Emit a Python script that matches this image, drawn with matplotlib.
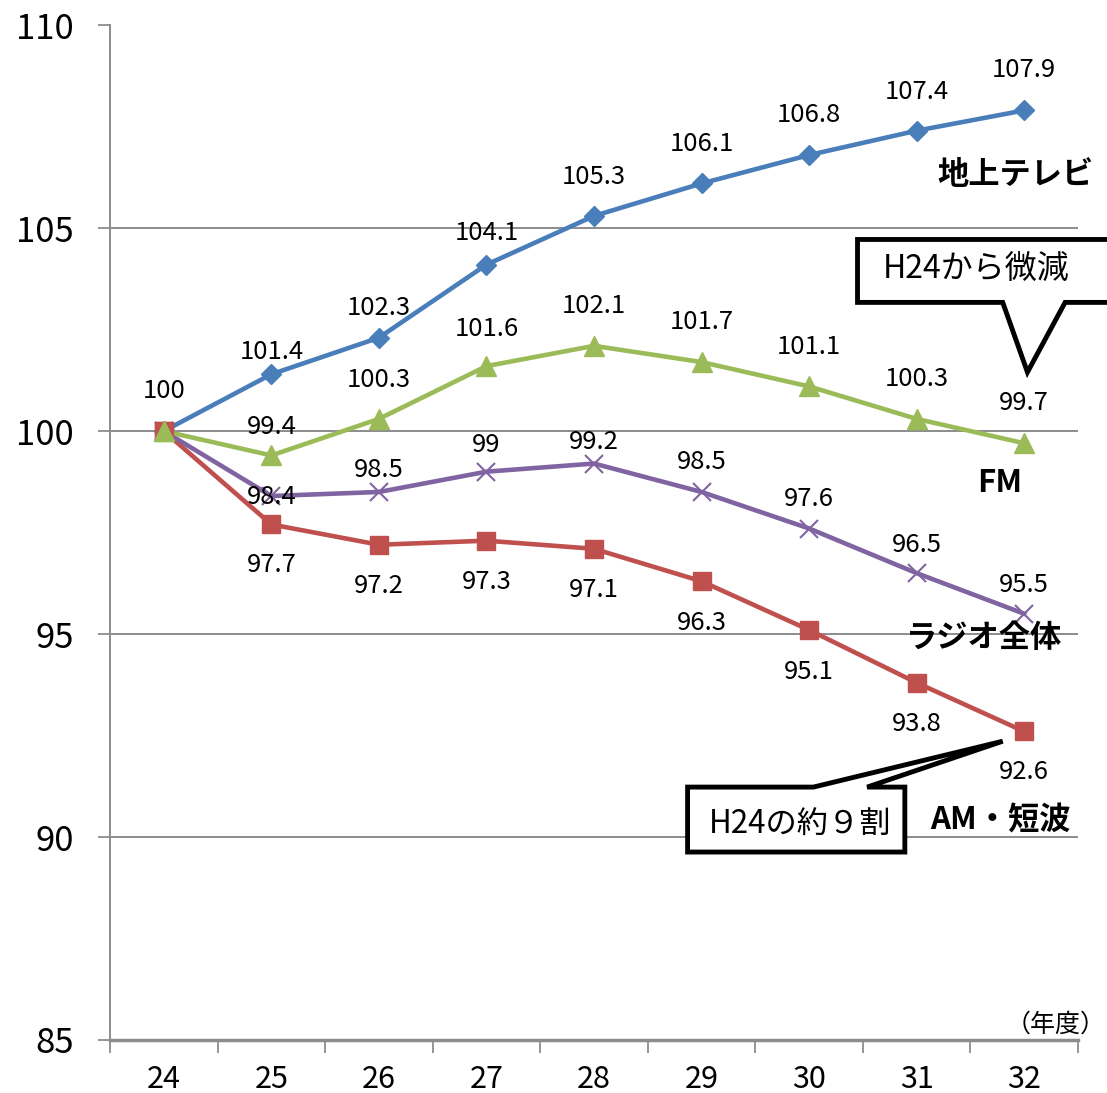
import matplotlib
matplotlib.use("Agg")
import matplotlib.pyplot as plt
from matplotlib.patches import Polygon

plt.rcParams["font.family"] = ["Noto Sans CJK JP", "DejaVu Sans"]

# 年度 (平成)
years = [24, 25, 26, 27, 28, 29, 30, 31, 32]

# H24 = 100 とした指数
tv = [100, 101.4, 102.3, 104.1, 105.3, 106.1, 106.8, 107.4, 107.9]
fm = [100, 99.4, 100.3, 101.6, 102.1, 101.7, 101.1, 100.3, 99.7]
radio = [100, 98.4, 98.5, 99, 99.2, 98.5, 97.6, 96.5, 95.5]
am = [100, 97.7, 97.2, 97.3, 97.1, 96.3, 95.1, 93.8, 92.6]

series_names = ["地上テレビ", "FM", "ラジオ全体", "AM・短波"]
y_ticks = [85, 90, 95, 100, 105, 110]

GRAY = "#8c8c8c"

fig = plt.figure(figsize=(11.07, 10.93), dpi=100)
ax = fig.add_axes([0.0994, 0.0485, 0.8744, 0.9285])


def fmt(v):
    return f"{v:g}"


def label_points(xs, ys, offsets, skip_first=True):
    # 点ごとのラベル (offsets はピクセル単位の縦ずれ)
    for i, (x, y) in enumerate(zip(xs, ys)):
        if skip_first and i == 0:
            continue
        ax.annotate(fmt(y), (x, y), xytext=(0, offsets[i]), textcoords="offset pixels",
                    ha="center", va="center", fontsize=18.5, color="black", zorder=6)


# 描画順: 赤 -> 紫 -> 緑 -> 青
ax.plot(years, am, color="#C0504D", lw=3.3, marker="s", ms=13, zorder=3)
ax.plot(years, radio, color="#8064A2", lw=3.3, marker="x", ms=13, mew=1.5, zorder=3)
ax.plot(years, tv, color="#4A7EBB", lw=3.3, marker="D", ms=10, zorder=3)
ax.plot(years, fm, color="#9BBB59", lw=3.3, marker="^", ms=14, zorder=4)
# 24年度は全系列が同じ点
ax.plot(years[0], am[0], marker="s", color="#C0504D", ms=13, zorder=4)
ax.plot(years[0], fm[0], marker="^", color="#9BBB59", ms=14, zorder=5)

label_points(years, tv, [40, 22, 30, 32, 39, 39, 40, 39, 40], skip_first=False)
label_points(years, fm, [0, 28, 39, 37, 40, 40, 39, 40, 40])
label_points(years, radio, [0, -1, 22, 27, 22, 30, 30, 28, 29])
label_points(years, am, [0, -41, -41, -41, -41, -42, -42, -41, -41])

# 系列名
name_style = dict(fontsize=22.5, fontweight="bold", ha="center", va="center", zorder=6)
ax.text(31.92, 106.3, series_names[0], **name_style)
ax.text(31.77, 98.72, series_names[1], **name_style)
ax.text(31.63, 94.9, series_names[2], **name_style)
ax.text(31.78, 90.42, series_names[3], **name_style)

# 吹き出し: H24から微減
x0, x1, yt, yb = 30.45, 32.8, 104.72, 103.17
pl, pr, tip = 31.80, 32.38, (32.03, 101.45)
callout1 = Polygon([(x0, yt), (x1, yt), (x1, yb), (pr, yb), tip, (pl, yb), (x0, yb)],
                   closed=True, facecolor="white", edgecolor="black", lw=3.5,
                   joinstyle="miter", clip_on=False, zorder=7)
ax.add_patch(callout1)
ax.text(31.55, 103.97, "H24から微減", fontsize=23, ha="center", va="center", zorder=8)

# 吹き出し: H24の約9割
x0, x1, yt, yb = 28.87, 30.89, 91.23, 89.63
pl, pr, tip = 30.04, 30.54, (31.80, 92.36)
callout2 = Polygon([(x0, yb), (x1, yb), (x1, yt), (pr, yt), tip, (pl, yt), (x0, yt)],
                   closed=True, facecolor="white", edgecolor="black", lw=3.5,
                   joinstyle="miter", clip_on=False, zorder=7)
ax.add_patch(callout2)
ax.text(29.92, 90.32, "H24の約９割", fontsize=22.5, ha="center", va="center", zorder=8)

# 軸
ax.set_xlim(23.5, 32.5)
ax.set_ylim(85, 110)
ax.set_yticks(y_ticks)
ax.set_yticklabels([str(v) for v in y_ticks], fontsize=25)
ax.set_xticks(years)
ax.set_xticklabels([str(y) for y in years], fontsize=22)
ax.set_xticks([y - 0.5 for y in years] + [years[-1] + 0.5], minor=True)
ax.tick_params(axis="x", which="major", length=0, pad=17)
ax.tick_params(axis="x", which="minor", length=9, width=1.3, color=GRAY)
ax.tick_params(axis="y", length=9, width=1.3, color=GRAY, pad=17)

for v in y_ticks[1:-1]:
    ax.axhline(v, color=GRAY, lw=1.4, zorder=1)

for side in ("top", "right"):
    ax.spines[side].set_visible(False)
ax.spines["left"].set_color(GRAY)
ax.spines["left"].set_linewidth(1.4)
ax.spines["bottom"].set_color(GRAY)
ax.spines["bottom"].set_linewidth(2.5)

ax.text(32.76, 85.05, "（年度）", fontsize=18, ha="right", va="bottom", clip_on=False)

fig.savefig("out.png", dpi=100)
